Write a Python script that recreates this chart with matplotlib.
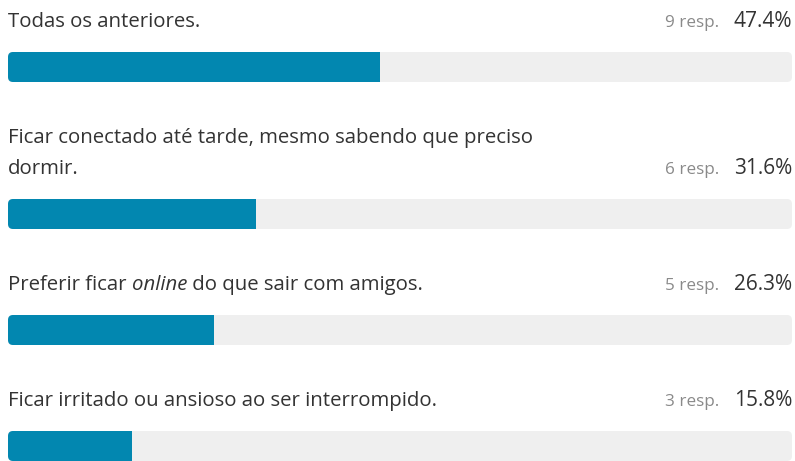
import matplotlib.pyplot as plt
from matplotlib.patches import FancyBboxPatch, Rectangle

# poll results
labels = [
    ["Todas os anteriores."],
    ["Ficar conectado até tarde, mesmo sabendo que preciso", "dormir."],
    [("Preferir ficar ", "normal"), ("online", "italic"), (" do que sair com amigos.", "normal")],
    ["Ficar irritado ou ansioso ao ser interrompido."],
]
responses = [9, 6, 5, 3]
percents = [47.4, 31.6, 26.3, 15.8]

W, H = 795, 461
bar_color = "#0287b0"
track_color = "#efefef"
text_color = "#333333"
resp_color = "#8a8a8a"
font = "Open Sans"
fs = 14.7

fig = plt.figure(figsize=(W / 100, H / 100), dpi=100)
ax = fig.add_axes([0, 0, 1, 1])
ax.set_xlim(0, W)
ax.set_ylim(H, 0)
ax.axis("off")

x0, x1 = 8, 792
bar_h = 30
line_h = 31
y = 27  # first baseline

for lab, n, pct in zip(labels, responses, percents):
    if isinstance(lab[0], tuple):
        prev = None
        for txt, style in lab:
            if prev is None:
                prev = ax.text(x0, y, txt, fontsize=fs, family=font, style=style,
                               color=text_color, va="baseline", ha="left")
            else:
                prev = ax.annotate(txt, xy=(1, y), xycoords=(prev, "data"),
                                   fontsize=fs, family=font, style=style,
                                   color=text_color, va="baseline", ha="left")
        nlines = 1
    else:
        for k, line in enumerate(lab):
            ax.text(x0, y + k * line_h, line, fontsize=fs, family=font,
                    color=text_color, va="baseline", ha="left")
        nlines = len(lab)
    last = y + (nlines - 1) * line_h
    ax.text(x1, last, f"{pct:.1f}%", fontsize=15, family=font, color=text_color,
            va="baseline", ha="right")
    ax.text(719, last, f"{n} resp.", fontsize=12.3, family=font, color=resp_color,
            va="baseline", ha="right")

    top = last + 25
    track = FancyBboxPatch((x0, top), x1 - x0, bar_h,
                           boxstyle="round,pad=0,rounding_size=5",
                           fc=track_color, ec="none")
    ax.add_patch(track)
    fill = Rectangle((x0, top), (x1 - x0) * pct / 100, bar_h, fc=bar_color, ec="none")
    ax.add_patch(fill)
    fill.set_clip_path(track)
    y = top + bar_h + 61

fig.savefig("out.png", dpi=100)
